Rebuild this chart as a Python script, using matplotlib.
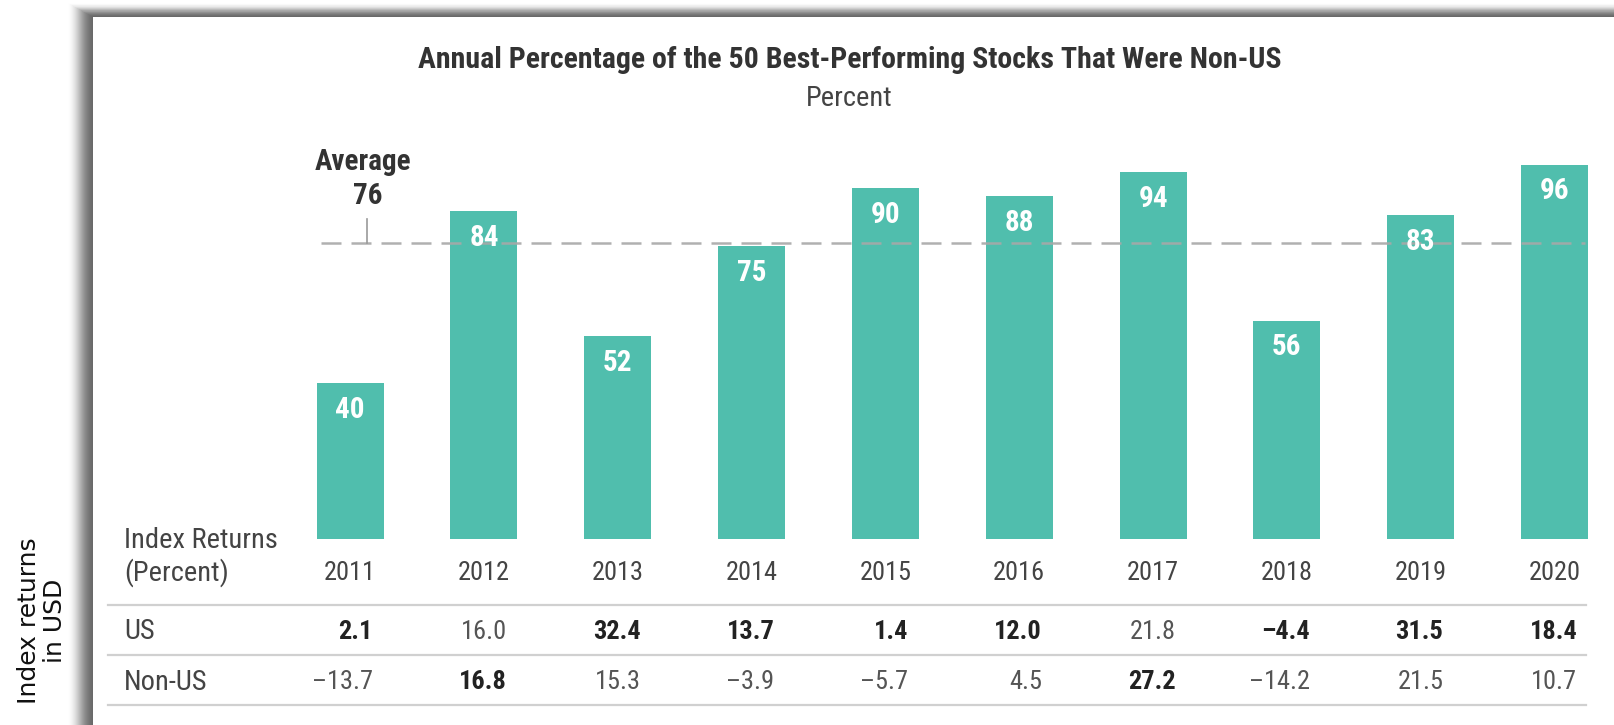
import matplotlib
matplotlib.use("Agg")
import matplotlib.pyplot as plt
from matplotlib.patches import Rectangle

# data
years = ["2011", "2012", "2013", "2014", "2015", "2016", "2017", "2018", "2019", "2020"]
pct_non_us = [40, 84, 52, 75, 90, 88, 94, 56, 83, 96]
average = 76
us_returns = [2.1, 16.0, 32.4, 13.7, 1.4, 12.0, 21.8, -4.4, 31.5, 18.4]
non_us_returns = [-13.7, 16.8, 15.3, -3.9, -5.7, 4.5, 27.2, -14.2, 21.5, 10.7]

TEAL = "#50bead"
FONT = ["Roboto Condensed", "DejaVu Sans"]

W, H = 1614, 725
fig = plt.figure(figsize=(W / 100, H / 100), dpi=100)

# background card with shadow, in pixel coords
bg = fig.add_axes([0, 0, 1, 1])
bg.set_xlim(0, W)
bg.set_ylim(H, 0)
bg.axis("off")
px, py = 93, 17
for k in range(26, 0, -1):
    a = 0.6 * (1 - k / 26) ** 1.2
    bg.add_patch(Rectangle((px - k, py - k * 0.55), W, H, color="#606060", alpha=a * 0.35, lw=0))
bg.add_patch(Rectangle((px, py), W, H, color="white", lw=0))

bg.text(42, 621, "Index returns\nin USD", rotation=90, ha="center", va="center",
        fontsize=18, family="DejaVu Sans", color="#111111", linespacing=1.15)

# main axes: x in bar slots, y in percent
ax = fig.add_axes([0, 0, 1, 1])
ax.patch.set_alpha(0)
ax.axis("off")
ax.set_xlim(-2.616, 9.444)
ax.set_ylim(-47.7, 138.2)

x = list(range(len(years)))
ax.bar(x, pct_non_us, width=0.5, color=TEAL, zorder=2)
for xi, v in zip(x, pct_non_us):
    ax.text(xi, v - 6.9, str(v), ha="center", va="center", color="white",
            fontsize=21, fontweight="bold", family=FONT, zorder=4)

ax.plot([-0.22, 9.23], [average, average], color="#a8a8a8", lw=1.8,
        linestyle=(0, (8, 4)), zorder=3, alpha=0.9)
ax.plot([0.13, 0.13], [average, 82], color="#999999", lw=1.2, zorder=3)
ax.text(0.1, 96.7, "Average", ha="center", va="center", fontsize=21,
        fontweight="bold", family=FONT, color="#333333")
ax.text(0.13, 88, str(average), ha="center", va="center", fontsize=21,
        fontweight="bold", family=FONT, color="#333333")

ax.text(3.73, 122.8, "Annual Percentage of the 50 Best-Performing Stocks That Were Non-US",
        ha="center", va="center", fontsize=21.5, fontweight="bold", family=FONT, color="#333333")
ax.text(3.73, 113, "Percent", ha="center", va="center", fontsize=20.5, family=FONT, color="#444444")

# table
lx = -1.689
lab = dict(ha="left", va="center", fontsize=20.5, family=FONT, color="#444444")
ax.text(lx, -0.5, "Index Returns", **lab)
ax.text(lx, -8.7, "(Percent)", **lab)
ax.text(lx, -23.8, "US", **lab)
ax.text(lx, -36.7, "Non-US", **lab)
for yl in [-16.9, -29.7, -42.6]:
    ax.plot([-1.809, 9.238], [yl, yl], color="#d0d0d0", lw=1.6)


def fmt(v):
    s = f"{abs(v):.1f}"
    return ("\u2013" + s) if v < 0 else s


for xi, yr, u, n in zip(x, years, us_returns, non_us_returns):
    ax.text(xi, -8.7, yr, ha="center", va="center", fontsize=19, family=FONT, color="#444444")
    ax.text(xi + 0.17, -23.8, fmt(u), ha="right", va="center", fontsize=19, family=FONT,
            fontweight="bold" if u > n else "normal", color="#222222" if u > n else "#555555")
    ax.text(xi + 0.17, -36.7, fmt(n), ha="right", va="center", fontsize=19, family=FONT,
            fontweight="bold" if n > u else "normal", color="#222222" if n > u else "#555555")

fig.savefig("out.png", dpi=100)
